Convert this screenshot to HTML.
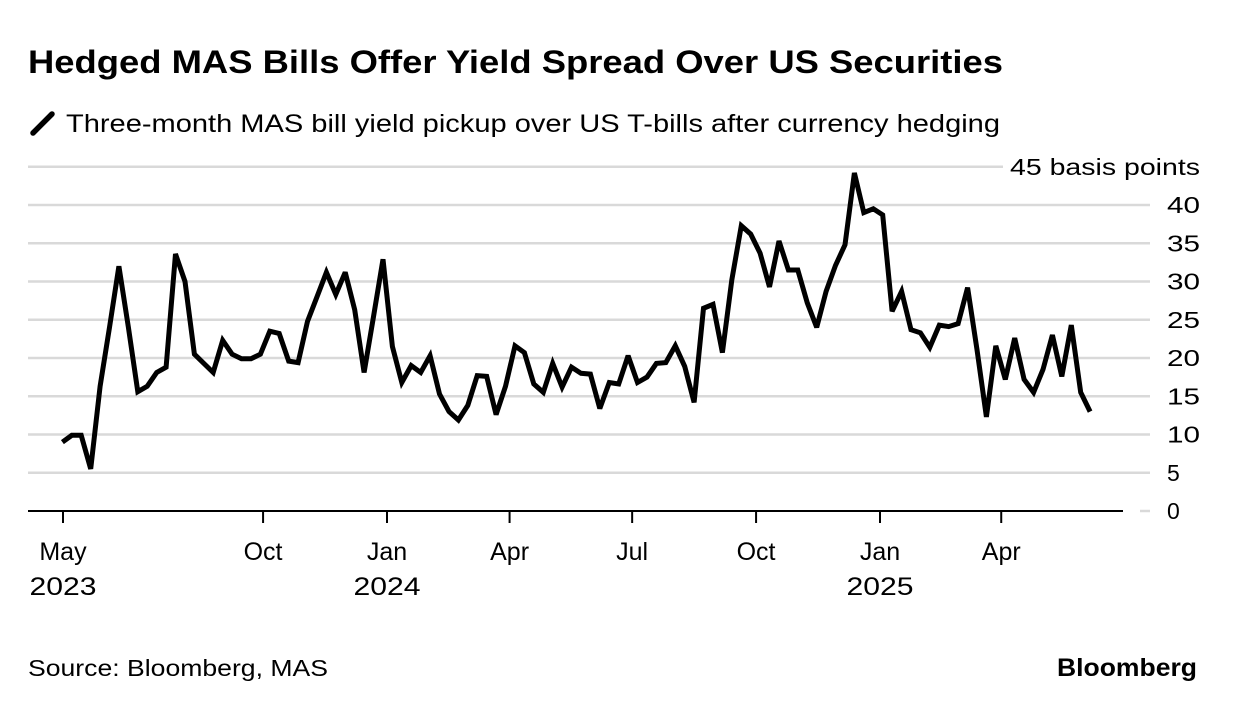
<!DOCTYPE html>
<html><head><meta charset="utf-8"><style>
body{margin:0;background:#fff;width:1236px;height:710px;overflow:hidden;font-family:"Liberation Sans",sans-serif;}
svg{display:block}
</style></head><body>
<svg id="chart" width="1236" height="710">
<text x="28" y="73" font-size="32" font-weight="bold" fill="#000" textLength="975" lengthAdjust="spacingAndGlyphs">Hedged MAS Bills Offer Yield Spread Over US Securities</text>
<line x1="33" y1="133" x2="52" y2="114" stroke="#000" stroke-width="5.5" stroke-linecap="round"/>
<text x="66" y="132" font-size="25" fill="#000" textLength="934" lengthAdjust="spacingAndGlyphs">Three-month MAS bill yield pickup over US T-bills after currency hedging</text>
<g id="grid"></g>
<g id="xaxis"></g>
<g id="series"></g>
<text x="28" y="676" font-size="23" fill="#000" textLength="300" lengthAdjust="spacingAndGlyphs">Source: Bloomberg, MAS</text>
<text x="1057" y="676" font-size="25" font-weight="bold" fill="#000" textLength="140" lengthAdjust="spacingAndGlyphs">Bloomberg</text>
</svg>
<script>
const yTicks=[0,5,10,15,20,25,30,35,40,45];
const xTickDates=["2023-05-01","2023-10-01","2024-01-01","2024-04-01","2024-07-01","2024-10-01","2025-01-01","2025-04-01"];
const xTickLabels=[["May","2023"],["Oct",""],["Jan","2024"],["Apr",""],["Jul",""],["Oct",""],["Jan","2025"],["Apr",""]];
const startDate="2023-05-05";
const values=[9.0,9.9,9.9,5.5,16.3,24,32,24,15.6,16.3,18.1,18.8,33.6,30,20.5,19.3,18.1,22.3,20.5,19.9,19.9,20.5,23.5,23.2,19.6,19.4,24.8,28,31.2,28.3,31.2,26.3,18.1,25.4,32.9,21.5,16.8,19,18.1,20.3,15.3,13,11.9,13.8,17.7,17.6,12.6,16.3,21.6,20.7,16.6,15.5,19.3,16.2,18.8,18,17.9,13.4,16.8,16.6,20.3,16.8,17.5,19.3,19.4,21.6,18.9,14.2,26.5,27,20.7,30.2,37.3,36.2,33.7,29.3,35.3,31.5,31.5,27.2,24,28.7,32.1,34.8,44.2,39,39.5,38.7,26.1,28.7,23.7,23.3,21.4,24.3,24.1,24.5,29.2,21.1,12.3,21.6,17.2,22.6,17.2,15.5,18.5,23,17.6,24.3,15.5,13];
const NS="http://www.w3.org/2000/svg";
const DAY=86400000;
const j24=Date.UTC(2024,0,1), j25=Date.UTC(2025,0,1);
function xScale(t){return 387+(t-j24)/(j25-j24)*(880-387);}
function yScale(v){return 511-v*(306/40);}
function mk(tag,attrs,parent){const e=document.createElementNS(NS,tag);for(const k in attrs)e.setAttribute(k,attrs[k]);parent.appendChild(e);return e;}
const grid=document.getElementById('grid'),xa=document.getElementById('xaxis'),ser=document.getElementById('series');
yTicks.forEach(v=>{
  const y=yScale(v);
  if(v>0){
    const l=mk('line',{x1:28,x2:v===45?1003:1150,y1:y,y2:y,stroke:'#d9d9d9','stroke-width':2.5},grid);
    
    
  } else {
    const l=mk('line',{x1:1140,x2:1150,y1:y,y2:y,stroke:'#d9d9d9','stroke-width':2.5},grid);
    
    
  }
  const attrs={x:v===45?1010:1167,y:y+8,'font-size':23,fill:'#000'};
  if(v===45){attrs.textLength=190;attrs.lengthAdjust='spacingAndGlyphs';}
  else if(v>=10){attrs.textLength=33;attrs.lengthAdjust='spacingAndGlyphs';}
  const t=mk('text',attrs,grid);
  t.textContent=v===45?'45 basis points':String(v);
  
  
});
const zl=mk('line',{x1:28,x2:1123,y1:yScale(0),y2:yScale(0),stroke:'#000','stroke-width':2},xa);


xTickDates.forEach((d,i)=>{
  const p=d.split('-').map(Number);
  const x=xScale(Date.UTC(p[0],p[1]-1,p[2]))+(i===0?6:0);
  const tk=mk('line',{x1:x,x2:x,y1:511,y2:523,stroke:'#000','stroke-width':2},xa);
  
  
  xTickLabels[i].forEach((s,k)=>{
    if(!s)return;
    const t=mk('text',{x:x,y:560+k*35,'font-size':25,'text-anchor':'middle',fill:'#000'},xa);
    if(s.length===4){t.setAttribute('textLength',67);t.setAttribute('lengthAdjust','spacingAndGlyphs');}
    t.textContent=s;
    
    
  });
});
const sp=startDate.split('-').map(Number);
const t0=Date.UTC(sp[0],sp[1]-1,sp[2]);
const pts=values.map((v,i)=>xScale(t0+i*7*DAY).toFixed(1)+','+yScale(v).toFixed(1)).join(' ');
const pl=mk('polyline',{points:pts,fill:'none',stroke:'#000','stroke-width':5,'stroke-linejoin':'miter','stroke-miterlimit':3},ser);


</script>
</body></html>
